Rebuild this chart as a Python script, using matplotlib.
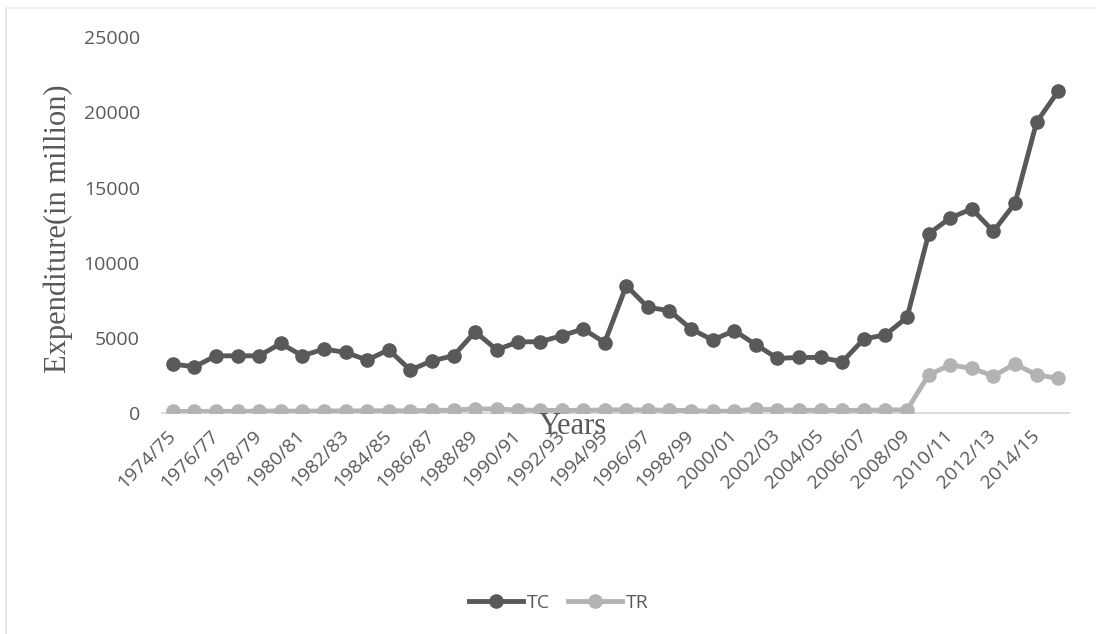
import matplotlib
matplotlib.use("Agg")
import matplotlib.pyplot as plt
import numpy as np

# Datos (millones)
years = [f"{y}/{str(y + 1)[-2:]}" for y in range(1974, 2016)]

tc = [3270, 3090, 3820, 3820, 3820, 4640, 3820, 4270, 4045, 3540,
      4220, 2870, 3490, 3820, 5420, 4220, 4750, 4750, 5150, 5600,
      4700, 8480, 7040, 6820, 5600, 4870, 5490, 4560, 3650, 3710,
      3710, 3420, 4930, 5220, 6370, 11920, 12980, 13580, 12090, 13960,
      19340, 21400]

tr = [120, 120, 130, 130, 150, 150, 140, 150, 160, 160,
      170, 160, 200, 200, 300, 280, 220, 200, 190, 200,
      220, 230, 220, 210, 180, 120, 150, 280, 220, 200,
      200, 190, 200, 220, 230, 2550, 3210, 2990, 2480, 3280,
      2550, 2330]

dark = "#595959"
light = "#b3b3b3"
text_col = "#595959"

fig = plt.figure(figsize=(10.96, 6.34), dpi=100)
ax = fig.add_axes([162 / 1096, (634 - 413.3) / 634, (1069 - 162) / 1096, (413.3 - 37) / 634])

x = np.arange(len(years))
ax.plot(x, tc, color=dark, lw=3.5, marker="o", ms=9.5, label="TC", zorder=3)
ax.plot(x, tr, color=light, lw=3.5, marker="o", ms=9.5, label="TR", zorder=2)

ax.set_xlim(-0.5, len(years) - 0.5)
ax.set_ylim(0, 25000)
ax.set_yticks(range(0, 25001, 5000))
ax.set_xticks(x[::2])
ax.set_xticklabels(years[::2], rotation=45, ha="right", va="center",
                   rotation_mode="anchor", fontsize=14, color=text_col,
                   family="Open Sans")
for lab in ax.get_yticklabels():
    lab.set_fontsize(14)
    lab.set_color(text_col)
    lab.set_family("Open Sans")

ax.tick_params(axis="both", length=0)
ax.tick_params(axis="y", pad=16)
ax.tick_params(axis="x", pad=14)
for s in ["top", "right", "left"]:
    ax.spines[s].set_visible(False)
ax.spines["bottom"].set_color("#d9d9d9")
ax.spines["bottom"].set_linewidth(1.3)
ax.spines["bottom"].set_zorder(1)
ax.patch.set_alpha(0)

# Etiquetas de ejes
fig.text(58 / 1096, (634 - 229) / 634, "Expenditure(in million)", rotation=90,
         ha="center", va="center", fontsize=22, color=text_col, family="Liberation Serif")
fig.text(573 / 1096, (634 - 434) / 634, "Years", ha="center", va="baseline",
         fontsize=22, color=text_col, family="Liberation Serif")

# Leyenda
fig.legend(loc="center", bbox_to_anchor=(559 / 1096, (634 - 603) / 634), ncol=2,
           frameon=False, handlelength=2.8, handletextpad=0.2,
           columnspacing=0.9, prop={"family": "Open Sans", "size": 14},
           labelcolor=text_col)

# Borde del gráfico
fig.add_artist(plt.Line2D([6 / 1096, 6 / 1096], [0, (634 - 8) / 634], color="#e0e0e0", lw=1.2))
fig.add_artist(plt.Line2D([6 / 1096, 1], [(634 - 8) / 634, (634 - 8) / 634], color="#eeeeee", lw=1.2))

fig.savefig("out.png", dpi=100)
